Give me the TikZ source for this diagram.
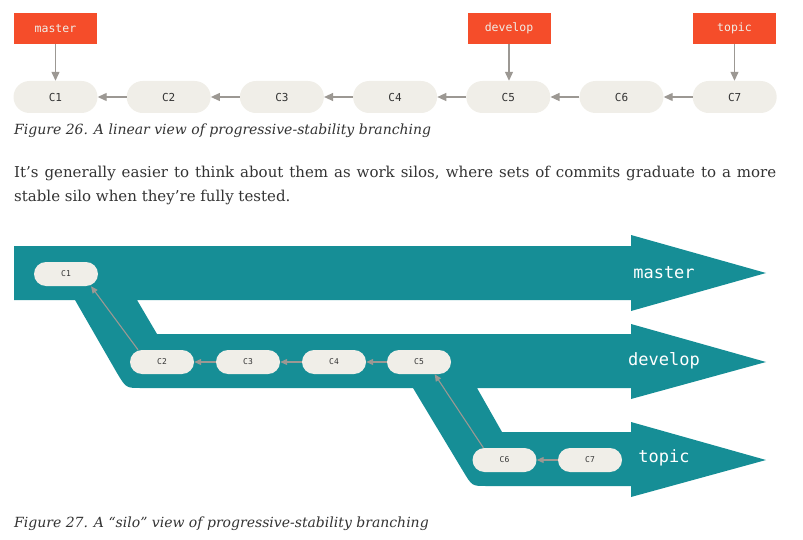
\documentclass[tikz,border=0pt]{standalone}
\usepackage{fontspec}
\setmainfont{DejaVu Serif}
\setmonofont{DejaVu Sans Mono}
\usetikzlibrary{arrows.meta,positioning}
\definecolor{gitteal}{HTML}{168E96}
\definecolor{gitred}{HTML}{F54D2A}
\definecolor{gitcream}{HTML}{F0EEE8}
\definecolor{gitgray}{HTML}{9C9893}
\definecolor{gittext}{HTML}{333333}
\def\ncommits{7}
\tikzset{
  commit/.style={fill=gitcream, rounded corners=16pt, minimum width=84pt,
    minimum height=32pt, inner sep=0pt, text=gittext,
    font=\ttfamily\fontsize{11}{13}\selectfont},
  silocommit/.style={commit, rounded corners=12pt, minimum width=64pt,
    minimum height=24pt, font=\ttfamily\fontsize{8}{10}\selectfont},
  reflabel/.style={fill=gitred, minimum width=83pt, minimum height=31pt,
    inner sep=0pt, text=gitcream, font=\ttfamily\fontsize{11.5}{13}\selectfont},
  silolabel/.style={inner sep=0pt, text=white,
    font=\ttfamily\fontsize{17}{20}\selectfont},
  parent/.style={gitgray, line width=1.2pt, -{Triangle[length=9pt,width=8pt]}},
  siloparent/.style={parent, line width=1.1pt, -{Triangle[length=7pt,width=6pt]}},
  caption/.style={anchor=base west, inner sep=0pt, text=gittext,
    font=\itshape\fontsize{14}{17}\selectfont},
  bodytext/.style={anchor=base west, inner sep=0pt, text=gittext,
    font=\fontsize{15}{24}\selectfont}
}

\begin{document}
\begin{tikzpicture}[x=1pt, y=-1pt]
  \useasboundingbox (0,0) rectangle (803,540);

  % linear view
  \foreach \i in {1, ..., \ncommits} {
    \node[commit] (c\i) at ({55.5 + 113.2*(\i - 1)}, 97) {C\i};
  }
  \foreach \i [count=\j] in {2, ..., \ncommits} {
    \draw[parent] (c\i.west) -- (c\j.east);
  }
  \node[reflabel] (master) at (55.5, 28.5) {master};
  \node[reflabel] (develop) at (509, 28.5) {develop};
  \node[reflabel] (topic) at (734.5, 28.5) {topic};
  \draw[parent] (master.south) -- (master.south |- c1.north);
  \draw[parent] (develop.south) -- (develop.south |- c5.north);
  \draw[parent] (topic.south) -- (topic.south |- c7.north);
  \node[caption] (fig26) at (14, 135) {Figure 26. A linear view of progressive-stability branching};

  \node[bodytext] (para1) at (14, 178) {\makebox[762pt][s]{It’s generally easier to think about them as work silos, where sets of commits graduate to a more}};
  \node[bodytext] (para2) at (14, 202) {stable silo when they’re fully tested.};

  % silo view
  \fill[gitteal] (14,246) -- (631,246) -- (631,235) -- (766,273) -- (631,311) -- (631,300)
    -- (137,300) -- (157,334) -- (631,334) -- (631,324) -- (766,362) -- (631,399) -- (631,388)
    -- (477,388) -- (502,432) -- (631,432) -- (631,422) -- (766,460) -- (631,497) -- (631,486)
    -- (486,486) .. controls (472,486) .. (463,471) -- (413,388)
    -- (141,388) .. controls (126,388) .. (117,373) -- (75,300) -- (14,300) -- cycle;

  \foreach \i/\x/\y in {1/66/274, 2/162/362, 3/248/362, 4/334/362, 5/419/362, 6/504.5/460, 7/590/460} {
    \node[silocommit] (s\i) at (\x, \y) {C\i};
  }
  \draw[siloparent] (s2.153) -- (s1.334);
  \draw[siloparent] (s3.west) -- (s2.east);
  \draw[siloparent] (s4.west) -- (s3.east);
  \draw[siloparent] (s5.west) -- (s4.east);
  \draw[siloparent] (s6.150) -- (s5.322);
  \draw[siloparent] (s7.west) -- (s6.east);

  \node[silolabel] (mastersilo) at (664, 273) {master};
  \node[silolabel] (developsilo) at (664, 361) {develop};
  \node[silolabel] (topicsilo) at (664, 458) {topic};

  \node[caption] (fig27) at (14, 527) {Figure 27. A “silo” view of progressive-stability branching};
\end{tikzpicture}
\end{document}
